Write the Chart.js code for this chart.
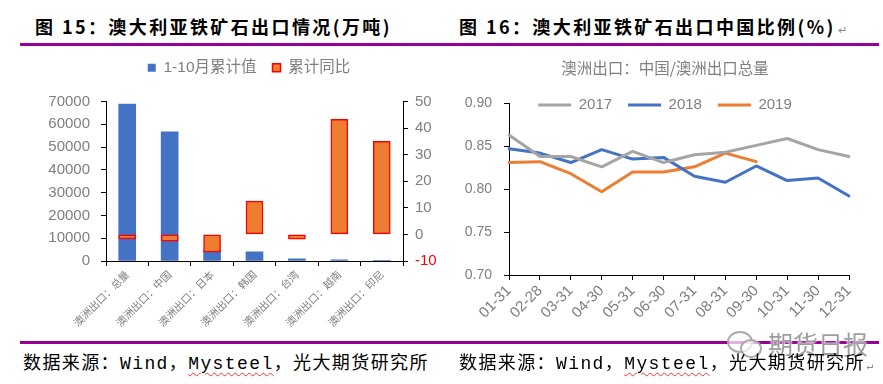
<!DOCTYPE html>
<html>
<head>
<meta charset="utf-8">
<script src="https://cdn.jsdelivr.net/npm/chart.js@4.4.1/dist/chart.umd.min.js"></script>
<style>
  html, body { margin: 0; padding: 0; }
  body { width: 883px; height: 384px; background: #fff; position: relative; overflow: hidden; }
  .title { position: absolute; top: 15px; font-family: "Noto Sans CJK SC", sans-serif; font-weight: 700;
           font-size: 18px; line-height: 22px; letter-spacing: 2.4px; color: #000; white-space: nowrap; }
  .rule { position: absolute; left: 20px; width: 859px; height: 3px; background: #990099; }
  .src { position: absolute; top: 352px; font-family: "Liberation Mono", "Noto Sans CJK SC", monospace;
         font-size: 18px; line-height: 24px; letter-spacing: 1.4px; color: #000; white-space: nowrap; }
  .sp { text-decoration: underline wavy #ff3030; text-decoration-thickness: 1px; text-underline-offset: 3px; }
  .ret { font-size: 11px; color: #888; letter-spacing: 0; font-weight: 400; margin-left: 2px; }
  .wm { position: absolute; left: 768px; top: 328px; font-family: "Noto Sans CJK SC", sans-serif; font-size: 25px;
        line-height: 30px; color: rgba(140,140,140,0.85); text-shadow: 0 0 2px #fff, 0 0 2px #fff; white-space: nowrap; }
  .wx1 { position: absolute; left: 727px; top: 331px; width: 22px; height: 18px; border: 2px solid rgba(150,150,150,0.8);
         border-radius: 50%; background: rgba(255,255,255,0.7); }
  .wx2 { position: absolute; left: 740px; top: 339px; width: 18px; height: 15px; border: 2px solid rgba(150,150,150,0.8);
         border-radius: 50%; background: rgba(255,255,255,0.7); }
  canvas { position: absolute; }
</style>
</head>
<body>
<div class="title" style="left:35px;">图 15：澳大利亚铁矿石出口情况(万吨)</div>
<div class="title" style="left:459px;">图 16：澳大利亚铁矿石出口中国比例(%)<span class="ret">↵</span></div>
<div class="rule" style="top:43px;"></div>
<div class="rule" style="top:341px;"></div>

<canvas id="c1" width="498" height="300" style="left:0px;top:40px;width:498px;height:300px;"></canvas>
<canvas id="c2" width="440" height="300" style="left:445px;top:40px;width:440px;height:300px;"></canvas>

<div class="wx1"></div><div class="wx2"></div>
<div class="wm">期货日报</div>
<div class="src" style="left:23px;">数据来源：Wind，<span class="sp">Mysteel</span>，光大期货研究所</div>
<div class="src" style="left:459px;">数据来源：Wind，<span class="sp">Mysteel</span>，光大期货研究所<span class="ret">↵</span></div>

<script>
// ---------- data ----------
const barCategories = ['澳洲出口：总量', '澳洲出口：中国', '澳洲出口：日本', '澳洲出口：韩国', '澳洲出口：台湾', '澳洲出口：越南', '澳洲出口：印尼'];
const cumValue = [68900, 56700, 4800, 4000, 1000, 500, 60];
const cumYoY = [-1.7, -2.5, -6.7, 12.5, -1.8, 43.3, 35.0];
const barSeriesNames = ['1-10月累计值', '累计同比'];

const dates = ['01-31', '02-28', '03-31', '04-30', '05-31', '06-30', '07-31', '08-31', '09-30', '10-31', '11-30', '12-31'];
const share2017 = [0.863, 0.838, 0.838, 0.826, 0.844, 0.831, 0.840, 0.843, 0.851, 0.859, 0.846, 0.838];
const share2018 = [0.847, 0.842, 0.831, 0.846, 0.835, 0.837, 0.815, 0.808, 0.827, 0.810, 0.813, 0.792];
const share2019 = [0.831, 0.832, 0.818, 0.797, 0.820, 0.820, 0.826, 0.842, 0.832];
const lineSeriesNames = ['2017', '2018', '2019'];
const lineChartTitle = '澳洲出口：中国/澳洲出口总量';

// ---------- helpers ----------
const GREY = '#7f7f7f';
const FONT = '"Liberation Sans", "Noto Sans CJK SC", sans-serif';
// fixes the space the legend takes in the layout; the legend may still draw over the plot (extra)
const legendHeight = {
  id: 'legendHeight',
  beforeInit(chart, args, opts) {
    const lg = chart.legend;
    if (!lg) return;
    const orig = lg.fit;
    lg.fit = function () { orig.call(this); this.height = opts.height; };
  },
  afterLayout(chart, args, opts) {
    const lg = chart.legend;
    if (lg && opts.extra) { lg.bottom += opts.extra; lg.height += opts.extra; }
  }
};
function fixWidth(w) { return s => { s.width = w; }; }
function fixHeight(h) { return s => { s.height = h; }; }

// ---------- chart 1 ----------
new Chart(document.getElementById('c1'), {
  type: 'bar',
  data: {
    labels: barCategories,
    datasets: [
      { label: barSeriesNames[0], data: cumValue, yAxisID: 'y', backgroundColor: '#4472c4',
        borderWidth: 0, grouped: false, barThickness: 17, order: 1 },
      { label: barSeriesNames[1], data: cumYoY, yAxisID: 'y1', backgroundColor: '#ed7d31',
        borderColor: '#ff0000', borderWidth: 1.5, borderSkipped: false, grouped: false, barThickness: 17, order: 0 }
    ]
  },
  options: {
    responsive: false, animation: false, devicePixelRatio: 1,
    layout: { padding: { left: 0, right: 0, top: 4, bottom: 0 } },
    plugins: {
      legendHeight: { height: 57.5, extra: 0 },
      tooltip: { enabled: false },
      legend: {
        position: 'top',
        labels: {
          boxWidth: 8, boxHeight: 8, padding: 16, color: GREY,
          font: { family: FONT, size: 15.5 },
          sort: (a, b) => a.datasetIndex - b.datasetIndex
        }
      }
    },
    scales: {
      x: {
        offset: true,
        grid: { offset: true, drawOnChartArea: false, drawTicks: true, tickLength: 5, color: '#000' },
        border: { display: true, color: '#000', width: 1 },
        ticks: { minRotation: 45, maxRotation: 45, autoSkip: false, color: GREY, padding: 2,
                 font: { family: '"Noto Sans CJK SC", sans-serif', size: 10.5 } },
        afterFit: fixHeight(79)
      },
      y: {
        position: 'left', min: 0, max: 70000,
        grid: { drawOnChartArea: false, drawTicks: true, tickLength: 5, color: '#000' },
        border: { display: true, color: '#000', width: 1 },
        ticks: { stepSize: 10000, color: GREY, padding: 11, font: { family: FONT, size: 15 },
                 callback: v => String(v) },
        afterFit: fixWidth(106)
      },
      y1: {
        position: 'right', min: -10, max: 50,
        grid: { drawOnChartArea: false, drawTicks: true, tickLength: 5, color: '#000' },
        border: { display: true, color: '#000', width: 1 },
        ticks: { stepSize: 10, padding: 7, font: { family: FONT, size: 15 },
                 color: c => (c.tick && c.tick.value === -10) ? '#ff0000' : GREY },
        afterFit: fixWidth(95)
      }
    }
  },
  plugins: [legendHeight]
});

// ---------- chart 2 ----------
new Chart(document.getElementById('c2'), {
  type: 'line',
  data: {
    labels: dates,
    datasets: [
      { label: lineSeriesNames[0], data: share2017, borderColor: '#a5a5a5', backgroundColor: '#a5a5a5', borderWidth: 3 },
      { label: lineSeriesNames[1], data: share2018, borderColor: '#4472c4', backgroundColor: '#4472c4', borderWidth: 3 },
      { label: lineSeriesNames[2], data: share2019, borderColor: '#ed7d31', backgroundColor: '#ed7d31', borderWidth: 3 }
    ]
  },
  options: {
    responsive: false, animation: false, devicePixelRatio: 1,
    layout: { padding: { left: 0, right: 0, top: 0, bottom: 0 } },
    elements: { line: { borderWidth: 3, tension: 0, fill: false, borderCapStyle: 'round', borderJoinStyle: 'round' },
                point: { radius: 0, hoverRadius: 0 } },
    plugins: {
      legendHeight: { height: 21.8, extra: 30 },
      tooltip: { enabled: false },
      title: { display: true, text: lineChartTitle, color: GREY, padding: { top: 18.7, bottom: 4.2 },
               font: { family: '"Noto Sans CJK SC", sans-serif', size: 15.5, weight: 'normal', lineHeight: 1.2 } },
      legend: {
        position: 'top',
        labels: { usePointStyle: true, pointStyle: 'line', pointStyleWidth: 33, boxHeight: 15, padding: 16, color: GREY,
                  font: { family: FONT, size: 15 } }
      }
    },
    scales: {
      x: {
        offset: false,
        grid: { offset: false, drawOnChartArea: false, drawTicks: true, tickLength: 5, color: '#000' },
        border: { display: true, color: '#000', width: 1 },
        ticks: { minRotation: 45, maxRotation: 45, autoSkip: false, color: GREY, padding: 2,
                 font: { family: FONT, size: 15 } },
        afterFit: fixHeight(65)
      },
      y: {
        min: 0.7, max: 0.9,
        grid: { drawOnChartArea: false, drawTicks: true, tickLength: 5, color: '#000' },
        border: { display: true, color: '#000', width: 1 },
        ticks: { stepSize: 0.05, color: GREY, padding: 12, font: { family: FONT, size: 14 },
                 callback: v => Number(v).toFixed(2) },
        afterFit: fixWidth(64)
      },
      yR: {
        type: 'linear', position: 'right', display: true,
        grid: { display: false, drawTicks: false }, border: { display: false },
        ticks: { display: false },
        afterFit: fixWidth(36)
      }
    }
  },
  plugins: [legendHeight]
});
</script>
</body>
</html>
